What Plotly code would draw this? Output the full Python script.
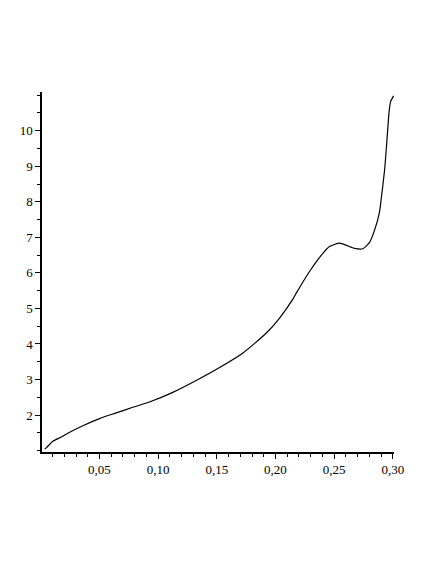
import plotly.graph_objects as go

# curve
x_vals = [0.0032, 0.005, 0.0102, 0.0174, 0.023, 0.0358, 0.05, 0.0643, 0.0784,
          0.092, 0.112, 0.134, 0.152, 0.172, 0.192, 0.2035, 0.2148, 0.2177,
          0.229, 0.2404, 0.246, 0.2546, 0.2674, 0.2745, 0.2802, 0.2845,
          0.2887, 0.290, 0.293, 0.295, 0.2967, 0.2981, 0.3007]
y_vals = [1.04, 1.09, 1.26, 1.38, 1.49, 1.70, 1.90, 2.06, 2.22,
          2.36, 2.63, 3.00, 3.33, 3.74, 4.30, 4.73, 5.26, 5.43,
          6.04, 6.55, 6.74, 6.84, 6.69, 6.68, 6.86, 7.21,
          7.72, 8.05, 8.90, 9.74, 10.49, 10.82, 10.98]

x_ticks = [0.05, 0.10, 0.15, 0.20, 0.25, 0.30]
x_tick_labels = ["0,05", "0,10", "0,15", "0,20", "0,25", "0,30"]
y_ticks = [2, 3, 4, 5, 6, 7, 8, 9, 10]
y_tick_labels = [str(v) for v in y_ticks]

SERIF = "Liberation Serif, DejaVu Serif, serif"

fig = go.Figure()
fig.add_trace(go.Scatter(
    x=x_vals, y=y_vals, mode="lines",
    line=dict(color="black", width=1.2, shape="spline", smoothing=0.5),
    showlegend=False, hoverinfo="skip"
))

axis_common = dict(
    showline=True, linecolor="black", linewidth=1.5,
    showgrid=False, zeroline=False, automargin=False,
    ticks="outside", ticklen=5, tickwidth=1, tickcolor="black",
    tickfont=dict(family=SERIF, size=13, color="black"),
)

fig.update_xaxes(
    range=[0.001, 0.301], tickmode="array",
    tickvals=x_ticks, ticktext=x_tick_labels,
    minor=dict(ticks="outside", ticklen=3, tick0=0, dtick=0.01,
               tickcolor="black", tickwidth=1, showgrid=False),
    **axis_common
)
fig.update_yaxes(
    range=[0.96, 11.09], tickmode="array",
    tickvals=y_ticks, ticktext=y_tick_labels,
    minor=dict(ticks="outside", ticklen=3, tick0=0, dtick=0.5,
               tickcolor="black", tickwidth=1, showgrid=False),
    **axis_common
)

# page body adds an 8px offset, so the figure is 8px smaller each way
fig.update_layout(
    width=428, height=556,
    margin=dict(l=34, r=42, t=84, b=112),
    font=dict(family=SERIF, color="black"),
    paper_bgcolor="white", plot_bgcolor="white",
)

fig.write_html("out.html")
